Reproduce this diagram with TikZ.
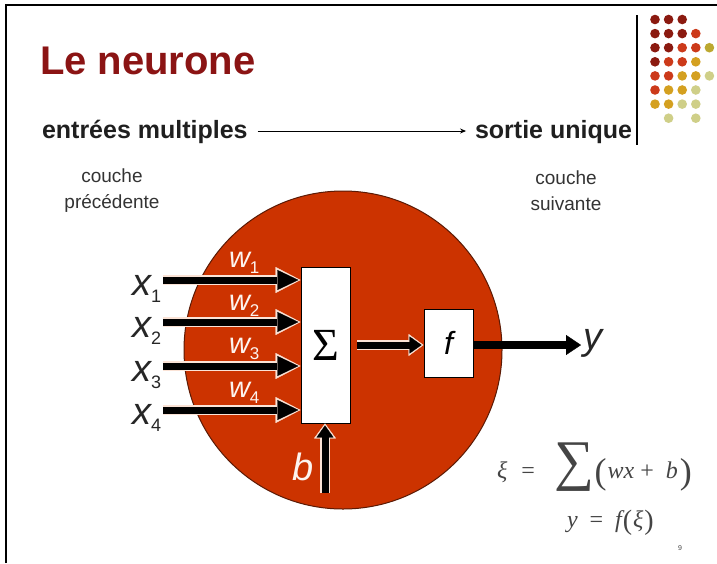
\documentclass[tikz,border=0pt]{standalone}
\usepackage{fontspec}
\setmainfont{Liberation Sans}
\newfontfamily\serifx{Liberation Serif}
\usetikzlibrary{arrows.meta}
\definecolor{titlered}{HTML}{8B1414}
\definecolor{discred}{HTML}{CC3300}
\definecolor{discedge}{HTML}{5A1A05}
\definecolor{peach}{HTML}{FBE3D6}
\definecolor{dr}{HTML}{8B1A10}
\definecolor{ro}{HTML}{CC3A1A}
\definecolor{gd}{HTML}{D4A020}
\definecolor{ol}{HTML}{BCA830}
\definecolor{pl}{HTML}{CFCF88}
\definecolor{formgray}{HTML}{444444}
\tikzset{
  txt/.style={inner sep=0pt, outer sep=0pt},
  wbox/.style={draw=black, line width=0.9pt, fill=white, inner sep=0pt},
  fatout/.style={line width=10.5pt, draw=peach, -{Triangle[length=25pt,width=26pt,line width=0.3pt]}},
  fatin/.style={line width=7pt, draw=black, shorten >=2.2pt, -{Triangle[length=21pt,width=20pt,line width=0.3pt]}},
  smallout/.style={line width=10.5pt, draw=peach, -{Triangle[length=15pt,width=22pt,line width=0.3pt]}},
  smallin/.style={line width=7pt, draw=black, shorten >=2pt, -{Triangle[length=12pt,width=17pt,line width=0.3pt]}},
  outarrow/.style={line width=8pt, draw=black, -{Triangle[length=15pt,width=20pt,line width=0.3pt]}},
  wlbl/.style={txt, text=peach!40!white, font=\itshape\fontsize{29}{29}\selectfont, anchor=base west},
  xlbl/.style={txt, font=\itshape\fontsize{38}{38}\selectfont, text=black!85, anchor=base west},
  eqtxt/.style={txt, anchor=base west, text=formgray, font=\serifx\fontsize{24}{24}\selectfont},
}
\newcommand{\subx}[1]{\raisebox{-7pt}{\upshape\fontsize{18}{18}\selectfont #1}}
\newcommand{\subw}[1]{\raisebox{-6pt}{\upshape\fontsize{17}{17}\selectfont #1}}
\newcommand{\tallp}[1]{\raisebox{-5pt}{\fontsize{36}{36}\selectfont #1}}
\newcommand{\midp}[1]{\raisebox{-2pt}{\fontsize{28}{28}\selectfont #1}}
\begin{document}
\begin{tikzpicture}[x=1pt,y=-1pt]
\useasboundingbox (0,0) rectangle (717,563);
\fill[white] (0,0) rectangle (717,563);
% frame
\draw[line width=2.5pt] (6,563) -- (6,5) -- (717,5);
% separator and dots
\draw[line width=1.5pt] (637,15) -- (637,145);
\foreach \c/\r/\col in {0/0/dr,1/0/dr,2/0/dr,
  0/1/dr,1/1/dr,2/1/dr,3/1/ro,
  0/2/dr,1/2/dr,2/2/ro,3/2/ro,4/2/ol,
  0/3/dr,1/3/ro,2/3/ro,3/3/gd,
  0/4/ro,1/4/ro,2/4/gd,3/4/gd,4/4/pl,
  0/5/ro,1/5/gd,2/5/gd,3/5/pl,
  0/6/gd,1/6/gd,2/6/pl,3/6/pl,
  1/7/pl,3/7/pl}
  \fill[\col] ({655+13.6*\c},{19.5+14.1*\r}) circle (4.8pt);
% title
\node[txt, anchor=base west, text=titlered, font=\bfseries\fontsize{40}{40}\selectfont] (title) at (40,74) {Le neurone};
% header line
\node[txt, anchor=base west, font=\bfseries\fontsize{25}{25}\selectfont, text=black!88] (inp) at (42,138) {entrées multiples};
\node[txt, anchor=base east, font=\bfseries\fontsize{25}{25}\selectfont, text=black!88] (outp) at (632,138) {sortie unique};
\draw[line width=0.8pt, -{Stealth[length=6pt,width=5pt]}] ([xshift=10pt]inp.east |- 0,131) -- ([xshift=-9pt]outp.west |- 0,131);
\node[txt, align=center, font=\fontsize{19}{26}\selectfont, text=black!80] (prev) at (112,191) {couche\\précédente};
\node[txt, align=center, font=\fontsize{19}{26}\selectfont, text=black!80] (next) at (566,191) {couche\\suivante};
% disc
\fill[discred, draw=discedge, line width=1pt] (343,350) circle (159pt);
% boxes
\node[wbox, minimum width=49pt, minimum height=156pt] (sig) at (325.5,345) {\raisebox{-4pt}{\serifx\fontsize{46}{46}\selectfont Σ}};
\node[wbox, minimum width=49pt, minimum height=68pt] (fbox) at (448.5,343) {\itshape\fontsize{32}{32}\selectfont f};
% input arrows
\foreach \i/\yy in {1/280,2/322,3/366,4/410}{
  \coordinate (s\i) at (163,\yy);
  \draw[fatout] (s\i) -- (s\i -| sig.west);
  \draw[fatin] (s\i) -- (s\i -| sig.west);
}
% x labels
\node[xlbl] (x1) at (132,295) {x\subx{1}};
\node[xlbl] (x2) at (132,337) {x\subx{2}};
\node[xlbl] (x3) at (132,381) {x\subx{3}};
\node[xlbl] (x4) at (132,424) {x\subx{4}};
% w labels
\node[wlbl] (w1) at (229,267) {w\subw{1}};
\node[wlbl] (w2) at (229,310) {w\subw{2}};
\node[wlbl] (w3) at (229,353) {w\subw{3}};
\node[wlbl] (w4) at (229,397) {w\subw{4}};
% sigma -> f
\coordinate (a0) at (357,345);
\draw[smallout] (a0) -- (a0 -| fbox.west);
\draw[smallin] (a0) -- (a0 -| fbox.west);
% f -> y
\coordinate (yend) at (581,345);
\draw[outarrow] (fbox.east |- yend) -- (yend);
\node[txt, anchor=west, font=\itshape\fontsize{38}{38}\selectfont, text=black!85] (ylbl) at (583,343) {y};
% bias
\coordinate (bstart) at (325,493);
\draw[smallout] (bstart) -- (bstart |- sig.south);
\draw[smallin] (bstart) -- (bstart |- sig.south);
\node[txt, font=\itshape\fontsize{38}{38}\selectfont, text=peach!40!white] (blbl) at (303,467) {b};
% formulas
\node[eqtxt] (eq1) at (497,478)
  {{\itshape ξ}\hspace{14pt}=\hspace{20pt}\raisebox{-1pt}{\fontsize{56}{56}\selectfont ∑}\tallp{(}\hspace{1pt}{\itshape wx}\hspace{6pt}+\hspace{12pt}{\itshape b}\hspace{2pt}\tallp{)}};
\node[eqtxt] (eq2) at (567,527)
  {{\itshape y}\hspace{12pt}=\hspace{12pt}{\itshape f}\hspace{1pt}\midp{(}\hspace{1pt}{\itshape ξ}\hspace{1pt}\midp{)}};
\node[txt, text=formgray, font=\fontsize{7}{7}\selectfont] (pg) at (680,548) {9};
\end{tikzpicture}
\end{document}
